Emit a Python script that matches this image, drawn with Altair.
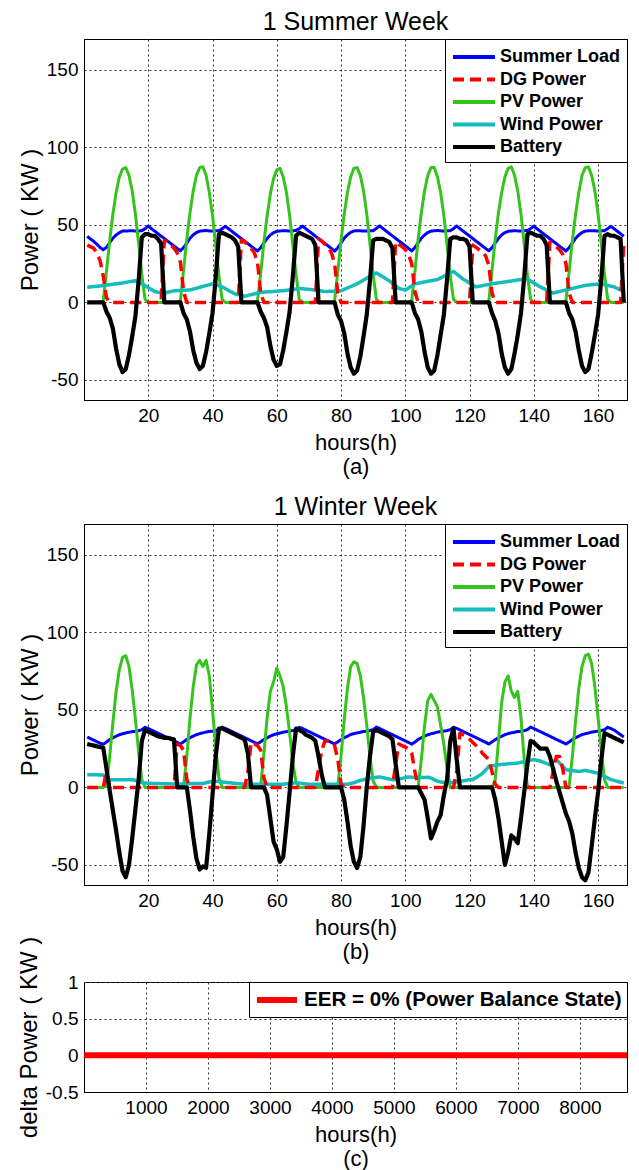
import altair as alt
import pandas as pd

FONT = "Liberation Sans"

hours = list(range(1, 169))
series_names = ["Summer Load", "DG Power", "PV Power", "Wind Power", "Battery"]
week_ticks = [20, 40, 60, 80, 100, 120, 140, 160]
power_ticks = [-50, 0, 50, 100, 150]

# ---------------- 1 Summer Week ----------------
summer_load = [
    42.6, 41.0, 39.4, 37.5, 35.5, 34.0, 35.5, 38.5, 41.5, 43.5, 45.0, 46.0, 46.0, 46.2, 46.3, 46.0, 46.1, 46.3, 47.5, 49.3, 47.6, 46.0, 44.4, 42.8,
    41.2, 39.6, 38.0, 36.4, 34.8, 33.3, 35.4, 38.3, 41.4, 43.6, 45.1, 46.0, 46.2, 46.4, 46.1, 46.0, 46.3, 46.2, 47.6, 49.1, 47.5, 45.9, 44.3, 42.7,
    41.1, 39.5, 37.9, 36.3, 34.7, 33.2, 35.3, 38.4, 41.3, 43.5, 45.0, 45.9, 46.1, 46.3, 46.2, 46.0, 46.2, 46.4, 47.7, 49.2, 47.6, 46.0, 44.4, 42.8,
    41.2, 39.6, 38.0, 36.4, 34.8, 33.1, 35.2, 38.3, 41.5, 43.6, 45.2, 46.1, 46.3, 46.2, 46.0, 46.1, 46.3, 46.2, 47.8, 49.4, 47.7, 46.1, 44.5, 42.9,
    41.3, 39.7, 38.1, 36.5, 34.9, 33.2, 35.4, 38.5, 41.4, 43.5, 45.1, 46.0, 46.2, 46.4, 46.2, 46.0, 46.2, 46.3, 47.6, 49.3, 47.6, 46.0, 44.4, 42.8,
    41.2, 39.6, 38.0, 36.4, 34.8, 33.3, 35.3, 38.4, 41.3, 43.6, 45.0, 45.9, 46.1, 46.3, 46.1, 46.0, 46.3, 46.4, 47.7, 49.2, 47.5, 45.9, 44.3, 42.7,
    41.1, 39.5, 37.9, 36.3, 34.7, 33.2, 35.4, 38.3, 41.4, 43.5, 45.1, 46.0, 46.2, 46.3, 46.2, 46.0, 46.2, 46.3, 47.6, 49.1, 47.5, 45.9, 44.3, 42.6,
]
summer_dg = [
    37, 36, 35, 32, 27, 17, 3, 0, 0, 0, 0, 0, 0, 0, 0, 0, 0, 0, 0, 0, 0, 0, 0, 0,
    40, 38.5, 37, 35, 32, 26, 7, 0, 0, 0, 0, 0, 0, 0, 0, 0, 0, 0, 0, 0, 0, 0, 0, 0,
    40.5, 39, 37, 35, 32, 26, 6, 0, 0, 0, 0, 0, 0, 0, 0, 0, 0, 0, 0, 0, 0, 0, 0, 0,
    41, 39.5, 37.5, 35.5, 32, 25, 6, 0, 0, 0, 0, 0, 0, 0, 0, 0, 0, 0, 0, 0, 0, 0, 0, 0,
    39, 37.5, 36, 34, 31, 25, 7, 0, 0, 0, 0, 0, 0, 0, 0, 0, 0, 0, 0, 0, 0, 0, 0, 0,
    37, 35.5, 34, 32.5, 30, 24, 6, 0, 0, 0, 0, 0, 0, 0, 0, 0, 0, 0, 0, 0, 0, 0, 0, 0,
    39, 37.5, 36, 34, 31, 25, 6, 0, 0, 0, 0, 0, 0, 0, 0, 0, 0, 0, 0, 0, 0, 0, 0, 38,
]
summer_pv = [
    0, 0, 0, 0, 0, 1, 20, 40, 57, 71, 81, 86, 87, 82, 72, 57, 38, 18, 2, 0, 0, 0, 0, 0,
    0, 0, 0, 0, 0, 1, 21, 41, 58, 72, 82, 87, 87.5, 82, 71, 56, 37, 17, 2, 0, 0, 0, 0, 0,
    0, 0, 0, 0, 0, 1, 19, 39, 56, 70, 80, 85.5, 86.5, 81, 71, 56, 37, 18, 2, 0, 0, 0, 0, 0,
    0, 0, 0, 0, 0, 1, 20, 40, 57, 71, 81, 86.5, 87, 82, 72, 57, 38, 18, 2, 0, 0, 0, 0, 0,
    0, 0, 0, 0, 0, 1, 20, 41, 58, 72, 82, 87, 87, 81, 71, 56, 37, 17, 2, 0, 0, 0, 0, 0,
    0, 0, 0, 0, 0, 1, 21, 41, 58, 71, 81, 86.5, 87.5, 82, 72, 57, 38, 18, 2, 0, 0, 0, 0, 0,
    0, 0, 0, 0, 0, 1, 20, 40, 57, 71, 82, 87, 87.5, 82, 72, 57, 38, 18, 2, 0, 0, 0, 0, 0,
]
summer_wind = [
    9.7, 10.0, 10.2, 10.4, 10.6, 10.8, 11.1, 11.4, 11.7, 12.0, 12.3, 12.5, 12.9, 13.3, 13.7, 14.0, 13.0, 12.0, 10.8, 9.5, 8.3, 7.0, 6.6, 6.3,
    6.0, 6.5, 7.0, 7.5, 7.6, 7.7, 7.8, 7.9, 8.0, 8.6, 9.1, 9.7, 10.3, 10.9, 11.4, 12.0, 11.3, 10.7, 10.0, 8.9, 7.7, 6.6, 5.5, 5.0,
    4.5, 4.0, 4.5, 5.0, 5.5, 6.0, 6.5, 6.6, 6.8, 6.9, 7.1, 7.2, 7.4, 7.5, 7.8, 8.1, 8.4, 8.7, 9.0, 8.8, 8.6, 8.4, 8.2, 8.0,
    7.7, 7.3, 7.0, 7.1, 7.2, 7.3, 7.4, 7.5, 8.4, 9.3, 10.2, 11.1, 12.0, 13.2, 14.4, 15.6, 16.8, 18.0, 19.0, 17.8, 16.5, 15.2, 14.0, 12.3,
    10.7, 9.0, 8.5, 8.0, 9.3, 10.7, 12.0, 12.4, 12.8, 13.2, 13.6, 14.0, 14.4, 14.7, 15.8, 16.8, 17.9, 19.0, 20.0, 18.3, 16.7, 15.0, 13.8, 12.5,
    11.3, 10.0, 10.4, 10.8, 11.2, 11.6, 12.0, 12.3, 12.6, 12.9, 13.2, 13.5, 13.8, 14.1, 14.5, 14.7, 14.8, 15.0, 13.8, 12.5, 11.3, 10.0, 9.0, 8.0,
    7.0, 6.0, 6.5, 7.0, 7.5, 8.0, 8.5, 9.0, 9.5, 10.0, 10.5, 11.0, 11.2, 11.4, 11.6, 11.8, 12.0, 11.5, 11.0, 10.5, 10.0, 9.0, 8.0, 7.0,
]
summer_battery = [
    0, 0, 0, 0, 0, 0, -6, -10, -17, -30, -40, -45, -43, -34, -22, -9, 14, 42, 44, 44, 43, 43, 41, 38,
    0, 0, 0, 0, 0, 0, -7, -11, -19, -31, -39, -43, -41, -32, -20, -7, 16, 44, 45, 44, 43, 42, 40, 36,
    0, 0, 0, 0, 0, 0, -6, -10, -16, -28, -37, -41, -40, -31, -19, -6, 17, 43, 45, 44, 43, 42, 41, 37,
    0, 0, 0, 0, 0, 0, -8, -12, -20, -33, -42, -46, -44, -35, -22, -8, 14, 40, 41, 41, 41, 40, 39, 35,
    0, 0, 0, 0, 0, 0, -7, -11, -19, -32, -42, -46, -44, -34, -21, -8, 15, 41, 42, 42, 41, 41, 40, 36,
    0, 0, 0, 0, 0, 0, -7, -12, -20, -33, -42, -46, -43, -33, -21, -7, 16, 44, 45, 44, 43, 43, 41, 37,
    0, 0, 0, 0, 0, 0, -7, -11, -19, -31, -41, -45, -43, -33, -21, -8, 15, 43, 44, 43, 43, 42, 41, 0,
]

# ---------------- 1 Winter Week ----------------
winter_load = [
    32.5, 31.5, 30.5, 29.5, 28.5, 27.8, 29.3, 30.8, 32.0, 33.0, 34.0, 34.6, 35.1, 35.6, 36.0, 36.2, 36.6, 37.2, 38.8, 38.0, 37.0, 36.0, 35.0, 34.0,
    33.0, 32.0, 31.0, 30.0, 29.0, 28.0, 29.4, 30.9, 32.1, 33.1, 34.0, 34.7, 35.2, 35.7, 36.1, 36.3, 36.7, 37.3, 38.9, 38.1, 37.1, 36.1, 35.1, 34.1,
    33.1, 32.1, 31.1, 30.1, 29.1, 28.1, 29.5, 30.9, 32.0, 33.1, 34.0, 34.6, 35.1, 35.6, 36.0, 36.3, 36.7, 37.2, 38.8, 38.0, 37.0, 36.0, 35.0, 34.0,
    33.0, 32.0, 31.0, 30.0, 29.0, 28.0, 29.4, 30.8, 32.1, 33.0, 34.1, 34.7, 35.2, 35.6, 36.1, 36.2, 36.6, 37.3, 38.9, 38.0, 37.0, 36.0, 35.0, 34.0,
    33.0, 32.0, 31.0, 30.0, 29.0, 27.9, 29.3, 30.9, 32.0, 33.1, 34.0, 34.6, 35.1, 35.7, 36.0, 36.3, 36.7, 37.2, 38.8, 38.1, 37.1, 36.1, 35.1, 34.1,
    33.1, 32.1, 31.1, 30.1, 29.1, 28.0, 29.4, 30.8, 32.1, 33.0, 34.0, 34.7, 35.2, 35.6, 36.1, 36.2, 36.6, 37.3, 38.9, 38.0, 37.0, 36.0, 35.0, 34.0,
    33.0, 32.0, 31.0, 30.0, 29.0, 28.0, 29.3, 30.9, 32.0, 33.1, 34.1, 34.6, 35.1, 35.7, 36.0, 36.3, 36.7, 37.2, 38.8, 38.0, 37.0, 35.5, 34.0, 32.5,
]
winter_dg = [
    0, 0, 0, 0, 0, 0, 10, 0, 0, 0, 0, 0, 0, 0, 0, 0, 0, 0, 0, 0, 0, 0, 0, 0,
    0, 0, 0, 0, 28, 27, 24, 5, 0, 0, 0, 0, 0, 0, 0, 0, 0, 0, 0, 0, 0, 0, 0, 0,
    0, 0, 10, 29, 28, 27, 24, 6, 0, 0, 0, 0, 0, 0, 0, 0, 0, 0, 0, 0, 0, 0, 0, 0,
    12, 24, 30, 30, 29, 27, 18, 2, 0, 0, 0, 0, 0, 0, 0, 0, 0, 0, 0, 0, 0, 0, 0, 0,
    15, 28, 27, 26, 25, 22, 10, 0, 0, 0, 0, 0, 0, 0, 0, 0, 0, 0, 0, 10, 35, 34, 33, 31,
    29, 27, 25, 22, 20, 18, 10, 2, 0, 0, 0, 0, 0, 0, 0, 0, 0, 0, 0, 0, 0, 0, 0, 0,
    0, 10, 20, 20, 12, 0, 0, 0, 0, 0, 0, 0, 0, 0, 0, 0, 0, 0, 0, 0, 0, 0, 0, 0,
]
winter_pv = [
    0, 0, 0, 0, 0, 0, 1, 20, 42, 62, 76, 84, 85, 78, 63, 44, 23, 5, 0, 0, 0, 0, 0, 0,
    0, 0, 0, 0, 0, 0, 1, 20, 45, 65, 79, 82, 78, 82, 72, 50, 26, 6, 0, 0, 0, 0, 0, 0,
    0, 0, 0, 0, 0, 0, 1, 22, 45, 62, 68, 77, 72, 65, 52, 35, 16, 3, 0, 0, 0, 0, 0, 0,
    0, 0, 0, 0, 0, 0, 1, 20, 44, 64, 78, 81, 80, 72, 58, 40, 20, 4, 0, 0, 0, 0, 0, 0,
    0, 0, 0, 0, 0, 0, 0, 0, 18, 40, 56, 60, 56, 52, 40, 28, 12, 0, 0, 0, 0, 0, 0, 0,
    0, 0, 0, 0, 0, 0, 0, 5, 30, 55, 68, 72, 62, 58, 62, 45, 18, 1, 0, 0, 0, 0, 0, 0,
    0, 0, 0, 0, 0, 0, 1, 20, 43, 64, 78, 85, 86, 80, 65, 45, 24, 5, 0, 0, 0, 0, 0, 0,
]
winter_wind = [
    8.2, 8.2, 8.1, 8.1, 8.0, 8.0, 6.5, 5.0, 5.0, 5.0, 5.0, 5.0, 5.0, 5.0, 5.0, 4.5, 3.8, 3.2, 2.8, 2.7, 2.6, 2.5, 2.5, 2.4,
    2.4, 2.3, 2.3, 2.2, 2.2, 2.2, 2.3, 2.4, 2.4, 2.5, 2.5, 2.5, 2.5, 3.0, 3.5, 3.8, 4.0, 3.8, 3.5, 3.3, 3.0, 2.8, 2.6, 2.4,
    2.2, 2.0, 2.0, 2.0, 2.0, 2.0, 2.0, 2.0, 2.0, 2.0, 2.0, 2.0, 2.0, 2.0, 2.3, 2.5, 2.8, 3.0, 2.8, 2.5, 2.2, 2.0, 2.0, 2.0,
    2.0, 2.0, 2.0, 2.0, 2.0, 2.0, 2.0, 2.0, 2.0, 2.0, 2.5, 3.0, 3.8, 4.5, 5.0, 5.5, 6.0, 6.3, 6.5, 6.7, 6.3, 5.8, 5.4, 5.0,
    5.0, 5.4, 5.8, 6.3, 6.7, 6.6, 6.6, 6.5, 6.5, 6.3, 6.6, 6.0, 5.0, 4.0, 3.5, 3.2, 3.0, 3.0, 3.3, 3.6, 4.0, 4.3, 4.6, 5.0,
    5.0, 6.3, 7.6, 9.0, 11.2, 13.5, 13.9, 14.2, 14.6, 14.8, 15.0, 15.2, 15.4, 15.5, 15.7, 16.2, 16.6, 17.1, 17.5, 18.0, 17.5, 17.0, 16.2, 15.4,
    14.6, 16.3, 18.0, 15.8, 13.6, 11.4, 11.1, 10.8, 10.6, 10.3, 10.6, 11.0, 10.5, 10.1, 9.6, 9.2, 8.2, 7.1, 6.1, 5.0, 4.5, 3.9, 3.3, 2.8,
]
winter_battery = [
    28, 27.5, 27, 26.5, 26, 25.5, 12, -2, -15, -28, -42, -54, -58, -50, -33, -14, 5, 30, 37, 36, 35, 34, 33, 32.5,
    32, 32, 31.5, 31, 0, 0, 0, 0, -15, -32, -46, -53, -51, -52, -30, -5, 20, 38, 38, 37, 36, 35, 34, 33,
    32, 31, 22, 0, 0, 0, 0, 0, -5, -20, -35, -40, -48, -45, -25, -3, 20, 38, 37, 36, 34, 33, 32, 30,
    20, 8, 0, 0, 0, 0, 0, 0, -8, -22, -38, -48, -52, -45, -25, 0, 20, 36, 37, 36, 35, 34, 33, 31,
    15, 0, 0, 0, 0, 0, 0, 0, -4, -8, -20, -33, -28, -22, -18, -5, 5, 30, 38, 18, 0, 0, 0, 0,
    0, 0, 0, 0, 0, 0, 0, -8, -20, -35, -50, -42, -31, -33, -36, -20, -3, 15, 30, 29, 27, 25, 25, 25,
    20, 12, 4, -3, -10, -17, -22, -30, -42, -52, -58, -60, -55, -38, -20, -3, 18, 35, 34, 33, 32, 31, 30, 29,
]

# ---------------- Whole year balance ----------------
year_hours = [1, 8760]
delta_power = [0, 0]
year_ticks = [1000, 2000, 3000, 4000, 5000, 6000, 7000, 8000]
delta_ticks = [-0.5, 0, 0.5, 1]
balance_label = "EER = 0% (Power Balance State)"

colors = ["#0000FF", "#FF0000", "#35C41C", "#14BCBC", "#000000"]
dashes = [[1, 0], [11, 6], [1, 0], [1, 0], [1, 0]]
stroke_w = {"Summer Load": 3, "DG Power": 3.5, "PV Power": 3, "Wind Power": 3.5, "Battery": 4.2}
draw_order = ["Summer Load", "PV Power", "Wind Power", "DG Power", "Battery"]

W = 543


def y_axis(values, title):
    return alt.Axis(values=values, title=title, labelExpr="'' + datum.value",
                    titlePadding=4, labelPadding=6, titleFontSize=24)


def x_axis(values, tag):
    return alt.Axis(values=values, title=["hours(h)", tag], labelExpr="'' + datum.value",
                    labelFlush=False, titlePadding=7, titleLineHeight=24, labelPadding=6,
                    titleFontSize=22)


def week_panel(series, title, tag):
    df = pd.concat(
        [pd.DataFrame({"hour": hours, "value": series[s], "series": s}) for s in series_names],
        ignore_index=True,
    )
    legend = alt.Legend(
        title=None, orient="top-right", offset=0, padding=6,
        fillColor="white", strokeColor="black", cornerRadius=0,
        symbolType="M-1,0L3.2,0", symbolSize=400, symbolStrokeWidth=4,
        labelFont=FONT, labelFontSize=18, labelFontWeight="bold", labelColor="black",
        labelOffset=25, rowPadding=1.5, labelLimit=400,
    )
    x = alt.X("hour:Q", scale=alt.Scale(domain=[0, 169], nice=False, zero=False),
              axis=x_axis(week_ticks, tag))
    y = alt.Y("value:Q", scale=alt.Scale(domain=[-63, 170], nice=False, zero=False),
              axis=y_axis(power_ticks, "Power ( KW )"))
    color = alt.Color("series:N", scale=alt.Scale(domain=series_names, range=colors), legend=legend)
    dash = alt.StrokeDash("series:N", scale=alt.Scale(domain=series_names, range=dashes), legend=legend)
    layers = [
        alt.Chart().transform_filter(alt.datum.series == s)
        .mark_line(strokeWidth=stroke_w[s], clip=True, strokeJoin="round")
        .encode(x=x, y=y, color=color, strokeDash=dash)
        for s in draw_order
    ]
    return alt.layer(*layers, data=df).properties(
        width=W, height=361,
        title=alt.Title(title, fontSize=25, fontWeight="normal", font=FONT, color="black",
                        offset=-16, baseline="alphabetic", frame="group"),
    )


summer = week_panel({"Summer Load": summer_load, "DG Power": summer_dg, "PV Power": summer_pv,
                     "Wind Power": summer_wind, "Battery": summer_battery}, "1 Summer Week", "(a)")
winter = week_panel({"Summer Load": winter_load, "DG Power": winter_dg, "PV Power": winter_pv,
                     "Wind Power": winter_wind, "Battery": winter_battery}, "1 Winter Week", "(b)")

df_c = pd.DataFrame({"hour": year_hours, "value": delta_power, "series": balance_label})
legend_c = alt.Legend(
    title=None, orient="top-right", offset=0, padding=5,
    fillColor="white", strokeColor="black", cornerRadius=0,
    symbolType="M-1,0L3,0", symbolSize=400, symbolStrokeWidth=6,
    labelFont=FONT, labelFontSize=20.6, labelFontWeight="bold", labelColor="black",
    labelOffset=24, labelLimit=500,
)
balance = alt.Chart(df_c).mark_line(strokeWidth=6, clip=True).encode(
    x=alt.X("hour:Q", scale=alt.Scale(domain=[0, 8760], nice=False, zero=False),
            axis=x_axis(year_ticks, "(c)")),
    y=alt.Y("value:Q", scale=alt.Scale(domain=[-0.5, 1], nice=False, zero=False),
            axis=y_axis(delta_ticks, "delta Power ( KW )")),
    color=alt.Color("series:N", scale=alt.Scale(domain=[balance_label], range=["#FF0000"]), legend=legend_c),
).properties(width=W, height=110)

weeks = (
    alt.vconcat(summer, winter, spacing=124, bounds="flush")
    .resolve_scale(color="independent", strokeDash="independent")
    .resolve_legend(color="independent", strokeDash="independent")
)

chart = (
    alt.vconcat(weeks, balance, spacing=-28, bounds="full")
    .resolve_scale(color="independent", strokeDash="independent")
    .resolve_legend(color="independent", strokeDash="independent")
    .properties(padding={"left": 8, "top": 1, "right": 2, "bottom": 2})
    .configure_axis(
        labelFont=FONT, labelFontSize=19, labelColor="black",
        titleFont=FONT, titleFontWeight="normal", titleColor="black",
        grid=True, gridColor="#333333", gridDash=[2, 3], gridWidth=1, gridOpacity=1,
        ticks=False, domainColor="black", domainWidth=1,
    )
    .configure_view(stroke="black", strokeWidth=1)
)

chart.save("out.html", embed_options={"renderer": "svg", "actions": False})
